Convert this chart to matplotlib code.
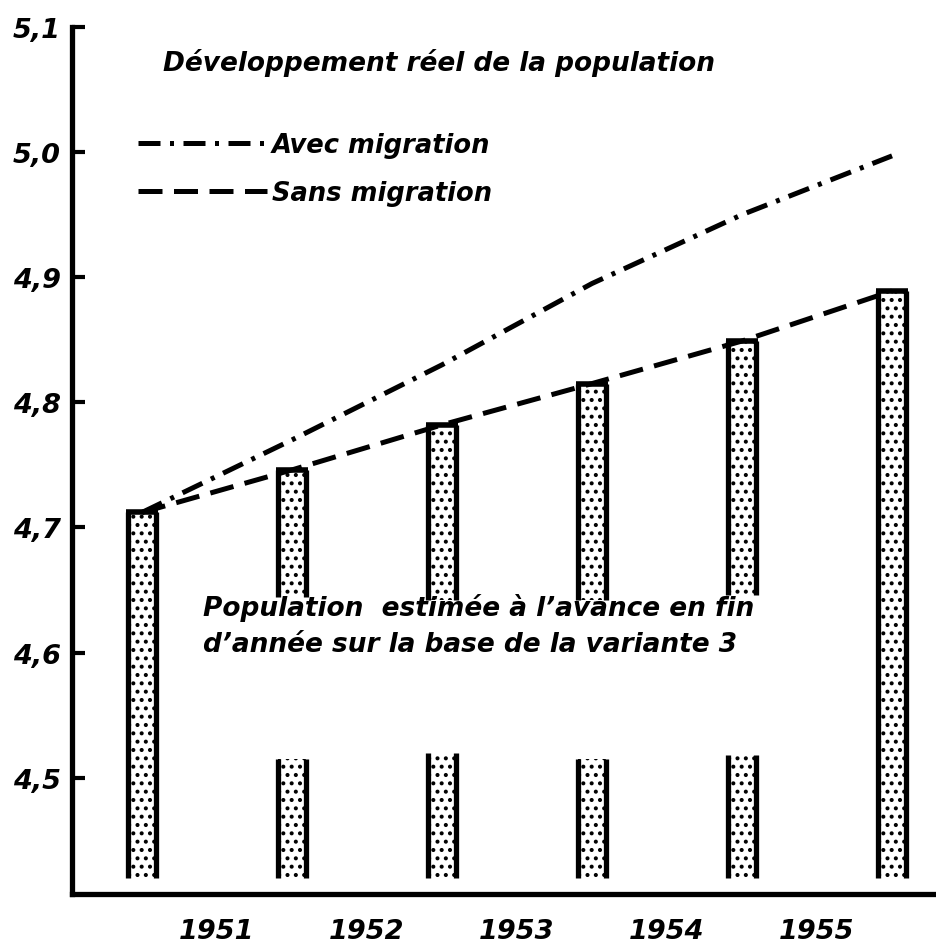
import matplotlib
matplotlib.use("Agg")
import matplotlib.pyplot as plt
import numpy as np

# fin d'année 1950 ... 1955
year_ends = [1950, 1951, 1952, 1953, 1954, 1955]
year_labels = ["1951", "1952", "1953", "1954", "1955"]
bar_top = [4.712, 4.746, 4.782, 4.815, 4.849, 4.889]
bar_base = 4.42
# barres interrompues : partie basse jusqu'a gap_low, reprise a gap_high
gap_low = [None, 4.515, 4.520, 4.515, 4.518, None]
gap_high = [None, 4.644, 4.642, 4.642, 4.646, None]

avec_migration = [4.712, 4.770, 4.830, 4.895, 4.950, 4.997]
sans_migration = [4.712, 4.746, 4.782, 4.815, 4.849, 4.889]

yticks = [4.5, 4.6, 4.7, 4.8, 4.9, 5.0, 5.1]
ytick_labels = ["4,5", "4,6", "4,7", "4,8", "4,9", "5,0", "5,1"]

plt.rcParams['font.family'] = ['DejaVu Sans']
plt.rcParams['hatch.linewidth'] = 1.7
FONT = dict(fontweight='bold', fontstyle='italic')

fig = plt.figure(figsize=(9.36, 9.45), dpi=100)
ax = fig.add_axes([72 / 936, 50 / 945, 864 / 936, 867 / 945])

x = np.arange(len(year_ends))
w = 0.19

for i, xi in enumerate(x):
    if gap_low[i] is None:
        segs = [(bar_base, bar_top[i])]
    else:
        segs = [(bar_base, gap_low[i]), (gap_high[i], bar_top[i])]
    for lo, hi in segs:
        ax.bar(xi, hi - lo, bottom=lo, width=w, color='white',
               edgecolor='black', linewidth=0, hatch='..', zorder=2)
        ax.vlines([xi - w / 2, xi + w / 2], lo, hi, colors='black',
                  linewidth=3.8, zorder=3)
    ax.hlines(bar_top[i], xi - w / 2 - 0.012, xi + w / 2 + 0.012,
              colors='black', linewidth=4.0, zorder=3)

ax.plot(x, avec_migration, color='black', linewidth=3.6,
        dashes=(4.4, 1.9, 0.8, 1.9), label='Avec migration', zorder=4)
ax.plot(x, sans_migration, color='black', linewidth=3.6,
        dashes=(4.8, 2.3), label='Sans migration', zorder=4)

ax.set_xlim(-0.467, 5.293)
ax.set_ylim(4.407, 5.1)

for s in ['top', 'right']:
    ax.spines[s].set_visible(False)
for s in ['left', 'bottom']:
    ax.spines[s].set_linewidth(3.8)

ax.set_yticks(yticks)
ax.set_yticklabels(ytick_labels, fontsize=19.5, **FONT)
ax.tick_params(axis='y', direction='in', length=9, width=3, pad=8)

ax.set_xticks(x[:-1] + 0.5)
ax.set_xticklabels(year_labels, fontsize=19.5, **FONT)
ax.tick_params(axis='x', length=0, pad=17)

ax.text(0.105, 0.96, "Développement réel de la population",
        transform=ax.transAxes, fontsize=19, ha='left', va='center', **FONT)

leg = ax.legend(loc='upper left', bbox_to_anchor=(0.05, 0.905),
                frameon=False, handlelength=5.0, handletextpad=0.2,
                labelspacing=0.85, prop=dict(size=18.5, weight='bold', style='italic'))

ax.text(0.152, 0.31, "Population  estimée à l’avance en fin\nd’année sur la base de la variante 3",
        transform=ax.transAxes, fontsize=19, ha='left', va='center',
        linespacing=1.5, **FONT)

fig.savefig("out.png", dpi=100)
